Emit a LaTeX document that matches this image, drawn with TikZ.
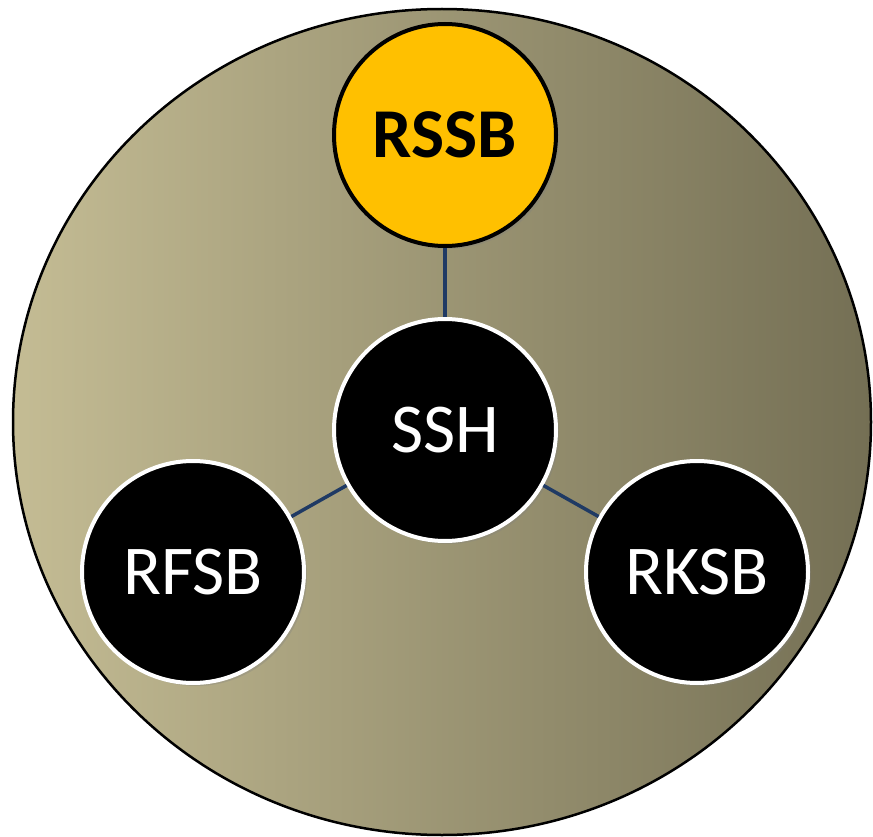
\documentclass[tikz,border=0pt]{standalone}
\usepackage{fontspec}
\setmainfont{Carlito}
\usetikzlibrary{shadows}
\definecolor{gold}{HTML}{FFC000}
\definecolor{linkblue}{HTML}{1F3A64}
\definecolor{tanleft}{RGB}{196,188,148}
\definecolor{tanright}{RGB}{116,111,84}
\begin{document}
\begin{tikzpicture}[x=1pt, y=-1pt,
  sb/.style={circle, minimum size=222pt, inner sep=0pt, line width=4pt, fill=black, draw=white, text=white,
    font=\fontsize{70}{80}\selectfont, drop shadow={shadow xshift=3pt, shadow yshift=-3pt, opacity=0.3}},
  link/.style={linkblue, line width=3.5pt}]
\useasboundingbox (0,0) rectangle (873,837);
\shade[left color=tanleft, right color=tanright, draw=black, line width=2.5pt] (442,422) ellipse [x radius=429, y radius=413];
\node[sb, fill=gold, draw=black, text=black, font=\fontsize{70}{80}\selectfont\bfseries] (rssb) at (445,135){RSSB};
\node[sb] (ssh) at (445,430){SSH};
\node[sb] (rfsb) at (193,572){RFSB};
\node[sb] (rksb) at (697,572){RKSB};
\draw[link](rssb) -- (ssh);
\draw[link](ssh) -- (rfsb);
\draw[link](ssh) -- (rksb);
\end{tikzpicture}
\end{document}
